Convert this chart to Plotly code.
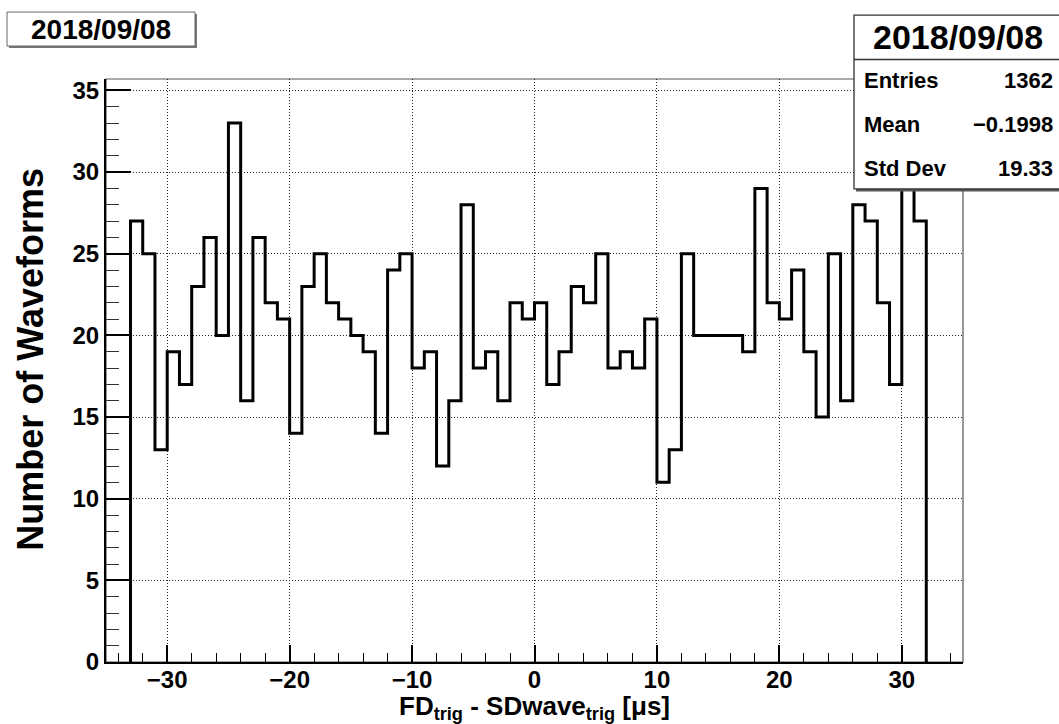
import numpy as np
import plotly.graph_objects as go

# Histogram: FD trigger time minus SD waveform trigger time, 1 us bins from -33 to 32
bin_low = -33
bin_width = 1
counts = [27, 25, 13, 19, 17, 23, 26, 20, 33, 16,
          26, 22, 21, 14, 23, 25, 22, 21, 20, 19,
          14, 24, 25, 18, 19, 12, 16, 28, 18, 19,
          16, 22, 21, 22, 17, 19, 23, 22, 25, 18,
          19, 18, 21, 11, 13, 25, 20, 20, 20, 20,
          19, 29, 22, 21, 24, 19, 15, 25, 16, 28,
          27, 22, 17, 34, 27]

run_date = "2018/09/08"
stat_names = ["Entries", "Mean", "Std Dev"]
stat_mean = "\u22120.1998"
stat_std = "19.33"

x_ticks = [-30, -20, -10, 0, 10, 20, 30]
y_ticks = [0, 5, 10, 15, 20, 25, 30, 35]

edges = bin_low + bin_width * np.arange(len(counts) + 1)
n_entries = int(np.sum(counts))
stat_values = [str(n_entries), stat_mean, stat_std]

# step outline of the histogram, dropping to zero at both ends
step_x = np.concatenate([[edges[0]], edges])
step_y = np.concatenate([[0], counts, [0]])

W, H = 1059, 724
L, R, T, B = 106, 963, 79, 662.5
FONT = "Liberation Sans"


def px(x):
    return (x - L) / (R - L)


def py(y):
    return (B - y) / (B - T)


fig = go.Figure()
fig.add_trace(go.Scatter(
    x=step_x, y=step_y, mode="lines", line_shape="hv",
    line=dict(color="black", width=3), hoverinfo="skip", showlegend=False,
))

shapes = [
    # frame
    dict(type="rect", xref="paper", yref="paper", x0=0, x1=1, y0=0, y1=1,
         line=dict(color="#555", width=1.2), layer="below"),
    # title box (shadow + box)
    dict(type="rect", xref="paper", yref="paper",
         x0=px(9), x1=px(197), y0=py(48), y1=py(14),
         fillcolor="#777", line=dict(width=0), layer="above"),
    dict(type="rect", xref="paper", yref="paper",
         x0=px(7), x1=px(195), y0=py(46), y1=py(12),
         fillcolor="white", line=dict(color="#666", width=1), layer="above"),
    # statistics box (shadow + box + separator)
    dict(type="rect", xref="paper", yref="paper",
         x0=px(856), x1=px(1075), y0=py(191.5), y1=py(17),
         fillcolor="#555", line=dict(width=0), layer="above"),
    dict(type="rect", xref="paper", yref="paper",
         x0=px(854), x1=px(1075), y0=py(189), y1=py(15),
         fillcolor="white", line=dict(color="#333", width=1.3), layer="above"),
    dict(type="line", xref="paper", yref="paper",
         x0=px(854), x1=px(1075), y0=py(59.5), y1=py(59.5),
         line=dict(color="#333", width=1.3), layer="above"),
]

annotations = [
    dict(text=f"<b>{run_date}</b>", x=px(101), y=py(29), xref="paper", yref="paper",
         showarrow=False, xanchor="center", yanchor="middle",
         font=dict(family=FONT, size=28, color="black")),
    dict(text=f"<b>{run_date}</b>", x=px(958), y=py(37), xref="paper", yref="paper",
         showarrow=False, xanchor="center", yanchor="middle",
         font=dict(family=FONT, size=34, color="black")),
]
row_y = [81, 125, 169]
for name, val, yy in zip(stat_names, stat_values, row_y):
    annotations.append(dict(text=f"<b>{name}</b>", x=px(862), y=py(yy),
                            xref="paper", yref="paper", showarrow=False,
                            xanchor="left", yanchor="middle",
                            font=dict(family=FONT, size=22, color="black")))
    annotations.append(dict(text=f"<b>{val}</b>", x=px(1055), y=py(yy),
                            xref="paper", yref="paper", showarrow=False,
                            xanchor="right", yanchor="middle",
                            font=dict(family=FONT, size=22, color="black")))

# axis titles
annotations.append(dict(
    text="<b>FD<sub>trig</sub> - SDwave<sub>trig</sub> [\u03bcs]</b>",
    x=px(534.5), y=py(708), xref="paper", yref="paper", showarrow=False,
    xanchor="center", yanchor="middle",
    font=dict(family=FONT, size=26, color="black")))
annotations.append(dict(
    text="<b>Number of Waveforms</b>", textangle=-90,
    x=px(31), y=py(360), xref="paper", yref="paper", showarrow=False,
    xanchor="center", yanchor="middle",
    font=dict(family=FONT, size=36, color="black")))

fig.update_layout(
    width=W, height=H, autosize=False,
    margin=dict(l=L, r=W - R, t=T, b=H - B, pad=0),
    paper_bgcolor="white", plot_bgcolor="white",
    font=dict(family=FONT, color="black"),
    shapes=shapes, annotations=annotations, showlegend=False,
)
fig.update_xaxes(
    range=[-35, 35], tickmode="array", tickvals=x_ticks,
    ticks="inside", ticklen=17, tickwidth=1.5, tickcolor="black",
    minor=dict(ticks="inside", ticklen=8.5, tickwidth=1.3, dtick=2, tick0=0,
               tickcolor="black", showgrid=False),
    showgrid=True, gridcolor="#222", griddash="1px,2px", gridwidth=1,
    zeroline=False, showline=True, linecolor="black", linewidth=2.2,
    tickfont=dict(family=FONT, size=24, weight="bold", color="black"),
    ticklabelstandoff=-5,
    fixedrange=True,
)
fig.update_yaxes(
    range=[0, 1.05 * max(counts)], tickmode="array", tickvals=y_ticks,
    ticks="inside", ticklen=25, tickwidth=1.5, tickcolor="black",
    minor=dict(ticks="inside", ticklen=12.5, tickwidth=1.3, dtick=1, tick0=0,
               tickcolor="#333", showgrid=False),
    showgrid=True, gridcolor="#222", griddash="1px,2px", gridwidth=1,
    zeroline=False, showline=True, linecolor="black", linewidth=2.2,
    tickfont=dict(family=FONT, size=24, weight="bold", color="black"),
    fixedrange=True,
)

fig.write_html("out.html")
